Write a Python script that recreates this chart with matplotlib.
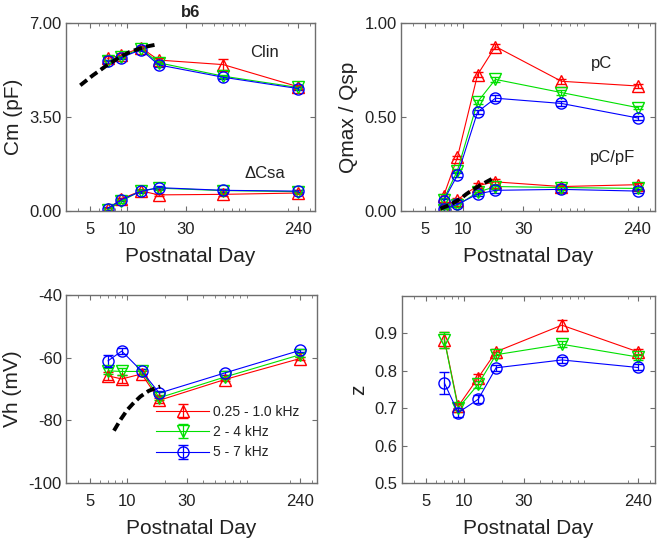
import matplotlib
matplotlib.use("Agg")
import matplotlib.pyplot as plt
from matplotlib.ticker import FixedLocator, NullFormatter, LogLocator, FixedFormatter

plt.rcParams['font.family'] = ['Liberation Sans', 'DejaVu Sans']

days = [7, 9, 13, 18, 60, 240]

clin_red = [5.68, 5.80, 6.08, 5.62, 5.45, 4.63]
clin_green = [5.58, 5.75, 6.04, 5.52, 5.02, 4.60]
clin_blue = [5.57, 5.71, 6.01, 5.44, 4.98, 4.56]
clin_err_red = [0.08, 0.07, 0.07, 0.08, 0.20, 0.07]
clin_err_green = [0.06, 0.06, 0.06, 0.06, 0.06, 0.06]
clin_err_blue = [0.06, 0.06, 0.06, 0.06, 0.06, 0.06]

csa_red = [0.06, 0.45, 0.75, 0.60, 0.62, 0.67]
csa_green = [0.05, 0.36, 0.76, 0.85, 0.76, 0.72]
csa_blue = [0.09, 0.42, 0.73, 0.87, 0.77, 0.74]
csa_err = [0.05, 0.05, 0.05, 0.05, 0.05, 0.05]

pc_red = [0.08, 0.285, 0.725, 0.875, 0.69, 0.665]
pc_green = [0.06, 0.215, 0.58, 0.70, 0.63, 0.55]
pc_blue = [0.055, 0.19, 0.527, 0.60, 0.572, 0.495]
pcpf_red = [0.02, 0.06, 0.135, 0.155, 0.13, 0.14]
pcpf_green = [0.005, 0.03, 0.10, 0.13, 0.125, 0.12]
pcpf_blue = [0.012, 0.035, 0.09, 0.11, 0.115, 0.106]
q_err = [0.01, 0.01, 0.012, 0.015, 0.012, 0.01]

vh_red = [-65.8, -66.8, -65.2, -73.6, -67.0, -60.3]
vh_green = [-64.2, -64.4, -64.4, -72.8, -66.2, -59.1]
vh_blue = [-61.0, -57.9, -64.3, -71.3, -64.9, -57.7]
vh_err_red = [1.2, 1.2, 0.8, 0.8, 0.6, 0.6]
vh_err_green = [1.0, 1.0, 0.8, 0.8, 0.6, 0.6]
vh_err_blue = [2.0, 1.0, 0.8, 0.8, 0.6, 0.6]

z_red = [0.883, 0.705, 0.782, 0.851, 0.922, 0.851]
z_green = [0.882, 0.700, 0.764, 0.843, 0.871, 0.837]
z_blue = [0.767, 0.688, 0.724, 0.808, 0.829, 0.809]
z_err_red = [0.022, 0.010, 0.010, 0.008, 0.015, 0.008]
z_err_green = [0.022, 0.010, 0.010, 0.008, 0.008, 0.008]
z_err_blue = [0.030, 0.012, 0.010, 0.008, 0.008, 0.008]

fit_cm_x = [4.2, 5.3, 6.1, 7.0, 8.8, 10.5, 12.7, 15.0, 17.4]
fit_cm_y = [4.68, 5.05, 5.25, 5.45, 5.73, 5.92, 6.05, 6.14, 6.20]
fit_q_x = [6.6, 8.0, 9.5, 10.6, 12.0, 13.5, 15.0, 16.8]
fit_q_y = [0.013, 0.035, 0.065, 0.09, 0.115, 0.135, 0.152, 0.17]
fit_vh_x = [7.8, 8.8, 10.0, 11.3, 12.7, 14.8, 16.8, 18.3]
fit_vh_y = [-83.3, -79.8, -76.6, -74.3, -72.4, -70.6, -69.7, -69.2]

xticks = [5, 10, 30, 240]
xticklabels = ['5', '10', '30', '240']
legend_labels = ['0.25 - 1.0 kHz', '2 - 4 kHz', '5 - 7 kHz']

RED = '#ff0000'
GREEN = '#00e000'
BLUE = '#0000ff'
SPINE = '#6e6e6e'
TXT = '#222222'

fig = plt.figure(figsize=(6.58, 5.40), dpi=100)
W, H = 658, 540


def make_ax(x0, y0, x1, y1):
    return fig.add_axes([x0 / W, 1 - y1 / H, (x1 - x0) / W, (y1 - y0) / H])


def style(ax, ylim, yticks, ylabels, ylabel):
    ax.set_xscale('log')
    ax.set_xlim(3.22, 330)
    ax.set_ylim(*ylim)
    ax.xaxis.set_major_locator(FixedLocator(xticks))
    ax.xaxis.set_major_formatter(FixedFormatter(xticklabels))
    ax.xaxis.set_minor_locator(LogLocator(base=10, subs=range(2, 10)))
    ax.xaxis.set_minor_formatter(NullFormatter())
    ax.set_yticks(yticks)
    ax.set_yticklabels(ylabels)
    for s in ax.spines.values():
        s.set_color(SPINE)
        s.set_linewidth(1.0)
    ax.tick_params(axis='both', which='both', direction='in', top=True, right=True,
                   color=SPINE, labelcolor=TXT, labelsize=12)
    ax.tick_params(axis='both', which='major', length=3.5)
    ax.tick_params(axis='both', which='minor', length=2)
    ax.tick_params(axis='x', which='major', pad=8)
    ax.tick_params(axis='y', which='major', pad=3)
    ax.set_xlabel('Postnatal Day', fontsize=15, color=TXT, labelpad=7)
    ax.set_ylabel(ylabel, fontsize=15, color=TXT, labelpad=5)


def series(ax, y, err, color, marker):
    return ax.errorbar(days, y, yerr=err, color=color, marker=marker, markersize=8,
                       markerfacecolor='none', markeredgecolor=color, markeredgewidth=1.0,
                       linewidth=0.8, capsize=3.5, elinewidth=0.9, capthick=0.9)


dash = (0, (2.2, 1.1))

# Panel 1
ax1 = make_ax(66, 23, 315, 211)
style(ax1, (0, 7), [0, 3.5, 7], ['0.00', '3.50', '7.00'], 'Cm (pF)')
ax1.plot(fit_cm_x, fit_cm_y, color='black', lw=2.8, linestyle=dash, zorder=5)
series(ax1, clin_red, clin_err_red, RED, '^')
series(ax1, clin_green, clin_err_green, GREEN, 'v')
series(ax1, clin_blue, clin_err_blue, BLUE, 'o')
series(ax1, csa_red, csa_err, RED, '^')
series(ax1, csa_green, csa_err, GREEN, 'v')
series(ax1, csa_blue, csa_err, BLUE, 'o')
ax1.text(130, 5.92, 'Clin', fontsize=12, ha='center', va='center', color=TXT)
ax1.text(130, 1.39, '\u0394Csa', fontsize=12, ha='center', va='center', color=TXT)
ax1.set_title('b6', fontsize=12, fontweight='bold', pad=4, color=TXT)

# Panel 2
ax2 = make_ax(401, 23, 655, 211)
style(ax2, (0, 1), [0, 0.5, 1.0], ['0.00', '0.50', '1.00'], 'Qmax / Qsp')
ax2.plot(fit_q_x, fit_q_y, color='black', lw=2.8, linestyle=dash, zorder=5)
series(ax2, pc_red, q_err, RED, '^')
series(ax2, pc_green, q_err, GREEN, 'v')
series(ax2, pc_blue, q_err, BLUE, 'o')
series(ax2, pcpf_red, q_err, RED, '^')
series(ax2, pcpf_green, q_err, GREEN, 'v')
series(ax2, pcpf_blue, q_err, BLUE, 'o')
ax2.text(124, 0.784, 'pC', fontsize=12, ha='center', va='center', color=TXT)
ax2.text(153, 0.287, 'pC/pF', fontsize=12, ha='center', va='center', color=TXT)

# Panel 3
ax3 = make_ax(66, 295, 317, 483)
style(ax3, (-100, -40), [-100, -80, -60, -40], ['-100', '-80', '-60', '-40'], 'Vh (mV)')
ax3.plot(fit_vh_x, fit_vh_y, color='black', lw=2.8, linestyle=dash, zorder=5)
h1 = series(ax3, vh_red, vh_err_red, RED, '^')
h2 = series(ax3, vh_green, vh_err_green, GREEN, 'v')
h3 = series(ax3, vh_blue, vh_err_blue, BLUE, 'o')
ax3.legend([h1, h2, h3], legend_labels, loc='upper left', bbox_to_anchor=(0.36, 0.415),
           frameon=False, fontsize=10, handlelength=3.8, handletextpad=0.3,
           borderpad=0, borderaxespad=0, labelspacing=0.45, labelcolor=TXT)

# Panel 4
ax4 = make_ax(402, 296, 655, 483)
style(ax4, (0.5, 1.0), [0.5, 0.6, 0.7, 0.8, 0.9], ['0.5', '0.6', '0.7', '0.8', '0.9'], 'z')
series(ax4, z_red, z_err_red, RED, '^')
series(ax4, z_green, z_err_green, GREEN, 'v')
series(ax4, z_blue, z_err_blue, BLUE, 'o')

fig.savefig('out.png', dpi=100)
